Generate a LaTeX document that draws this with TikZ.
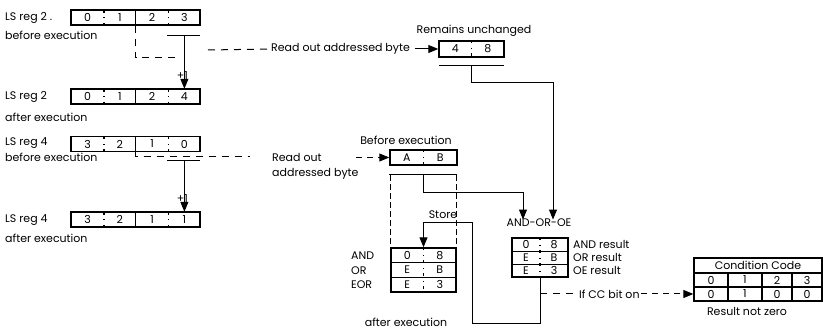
\documentclass[tikz,border=0pt]{standalone}
\usepackage{fontspec}
\setmainfont{Poppins}
\usetikzlibrary{arrows.meta}

\begin{document}
\begin{tikzpicture}[x=1pt,y=-1pt,
    every node/.style={font=\fontsize{11}{13}\selectfont},
    regbox/.style={draw,line width=1.4pt,inner sep=0pt,minimum height=15pt},
    bytecell/.style={inner sep=0pt,minimum width=32.25pt,minimum height=15pt},
    ccbox/.style={draw,line width=1.3pt,inner sep=0pt,minimum height=14pt},
    txt/.style={anchor=west,inner sep=1pt},
    tick/.style={line width=1.2pt,dash pattern=on 3pt off 4.5pt on 1pt off 4.5pt},
    wire/.style={line width=1pt},
    arr/.style={wire,-{Triangle[length=10pt,width=8pt]}},
    dashwire/.style={wire,dash pattern=on 7pt off 6pt},
    vdash/.style={wire,dash pattern=on 6pt off 3pt},
    dasharr/.style={wire,dash pattern=on 6pt off 5pt,-{Triangle[length=10pt,width=8pt]}}]
    \useasboundingbox (0,0) rectangle (823,336);
    % LS reg 2 before
        \node[txt] (twoblbl) at (4,18) {LS reg 2 .};
        \node[txt] (twobnote) at (4,35) {before execution};
        \node[regbox,minimum width=129pt] (twob) at (135.5,17.5) {};
        \node[bytecell] (twob-1) at (87.6,17.5) {0};
        \node[bytecell] (twob-2) at (119.9,17.5) {1};
        \node[bytecell] (twob-3) at (152.1,17.5) {2};
        \node[bytecell] (twob-4) at (184.4,17.5) {3};
        \draw[line width=1.4pt] (twob.north) -- (twob.south);
        \draw[tick] (twob-1.north east) -- (twob-1.south east);
        \draw[tick] (twob-3.north east) -- (twob-3.south east);
    % LS reg 2 after
        \node[txt] (twoalbl) at (4,97) {LS reg 2};
        \node[txt] (twoanote) at (4,117) {after execution};
        \node[regbox,minimum width=129pt] (twoa) at (135.5,96.5) {};
        \node[bytecell] (twoa-1) at (87.6,96.5) {0};
        \node[bytecell] (twoa-2) at (119.9,96.5) {1};
        \node[bytecell] (twoa-3) at (152.1,96.5) {2};
        \node[bytecell] (twoa-4) at (184.4,96.5) {4};
        \draw[line width=1.4pt] (twoa.north) -- (twoa.south);
        \draw[tick] (twoa-1.north east) -- (twoa-1.south east);
        \draw[tick] (twoa-3.north east) -- (twoa-3.south east);
    % increment reg 2
        \coordinate (twobarl) at (167,36);
        \coordinate (twobarr) at (200,36);
        \draw[wire] (twobarl) -- (twobarr);
        \draw[arr] (twob-4 |- twobarl) -- (twoa-4.north);
        \node (twoinc) at (182.5,76) {+1};

    % LS reg 4 before
        \node[txt] (fourblbl) at (4,143) {LS reg 4};
        \node[txt] (fourbnote) at (4,157) {before execution};
        \node[regbox,minimum width=129pt] (fourb) at (135.5,144) {};
        \node[bytecell] (fourb-1) at (87.6,144) {3};
        \node[bytecell] (fourb-2) at (119.9,144) {2};
        \node[bytecell] (fourb-3) at (152.1,144) {1};
        \node[bytecell] (fourb-4) at (184.4,144) {0};
        \draw[line width=1.4pt] (fourb.north) -- (fourb.south);
        \draw[tick] (fourb-1.north east) -- (fourb-1.south east);
        \draw[tick] (fourb-3.north east) -- (fourb-3.south east);
    % LS reg 4 after
        \node[txt] (fouralbl) at (4,220) {LS reg 4};
        \node[txt] (fouranote) at (4,238) {after execution};
        \node[regbox,minimum width=129pt] (foura) at (135.5,219.5) {};
        \node[bytecell] (foura-1) at (87.6,219.5) {3};
        \node[bytecell] (foura-2) at (119.9,219.5) {2};
        \node[bytecell] (foura-3) at (152.1,219.5) {1};
        \node[bytecell] (foura-4) at (184.4,219.5) {1};
        \draw[line width=1.4pt] (foura.north) -- (foura.south);
        \draw[tick] (foura-1.north east) -- (foura-1.south east);
        \draw[tick] (foura-3.north east) -- (foura-3.south east);
    % increment reg 4
        \coordinate (fourbarl) at (167,161);
        \coordinate (fourbarr) at (200,161);
        \draw[wire] (fourbarl) -- (fourbarr);
        \draw[arr] (fourb-4 |- fourbarl) -- (foura-4.north);
        \node (fourinc) at (182.5,199) {+1};

    % mask byte (read out by reg 2)
        \node[txt] (readone) at (270,49) {Read out addressed byte};
        \node (masktitle) at (474,31) {Remains unchanged};
        \node[regbox,minimum width=65pt,minimum height=16pt] (mask) at (471.5,49) {};
        \node[bytecell,minimum width=32.5pt] (mask-1) at (455.25,49) {4};
        \node[bytecell,minimum width=32.5pt] (mask-2) at (487.75,49) {8};
        \draw[tick] (mask.north) -- (mask.south);
        \coordinate (twodrop) at (178,58);
        \coordinate (twogap) at (208,50);
        \draw[dashwire] (twob.south) |- (twodrop);
        \draw[dashwire] (twogap) -- (readone.west);
        \coordinate (readonetip) at (415,49);
        \draw[arr] (readonetip) -- (mask.west);
        \coordinate (maskbarl) at (439,66);
        \coordinate (maskbarr) at (504,66);
        \draw[wire] (maskbarl) -- (maskbarr);

    % operand byte (read out by reg 4)
        \node[txt,align=left,font=\fontsize{11}{15}\selectfont] (readtwo) at (271,166.5) {Read out\\addressed byte};
        \node (optitle) at (406,140) {Before execution};
        \node[regbox,minimum width=67pt] (op) at (423.5,157.5) {};
        \node[bytecell,minimum width=33.5pt] (op-1) at (406.75,157.5) {A};
        \node[bytecell,minimum width=33.5pt] (op-2) at (440.25,157.5) {B};
        \draw[tick] (op.north) -- (op.south);
        \coordinate (fourgap) at (250,157);
        \draw[dashwire] (fourb.south) |- (fourgap);
        \coordinate (readtwotip) at (356,157.5);
        \draw[dasharr] (readtwotip) -- (op.west);
        \coordinate (opbarl) at (389,175);
        \coordinate (opbarr) at (457,175);
        \draw[wire] (opbarl) -- (opbarr);

    % AND-OR-OE
        \node (aoo) at (539,223) {AND-OR-OE};
        \draw[arr] (mask |- maskbarl) -- ++(0,17) -| ([xshift=14pt,yshift=-4pt]aoo.north);
        \draw[arr] (op |- opbarl) -- ++(0,18) -| ([xshift=-16pt,yshift=-4pt]aoo.north);
        \node[regbox,minimum width=56pt,minimum height=39pt] (aoobox) at (540,257.5) {};
        \node[bytecell,minimum width=28pt,minimum height=13pt] (aoo-1) at (526,244.5) {0};
        \node[bytecell,minimum width=28pt,minimum height=13pt] (aoo-2) at (554,244.5) {8};
        \node[bytecell,minimum width=28pt,minimum height=13pt] (aoo-3) at (526,257.5) {E};
        \node[bytecell,minimum width=28pt,minimum height=13pt] (aoo-4) at (554,257.5) {B};
        \node[bytecell,minimum width=28pt,minimum height=13pt] (aoo-5) at (526,270.5) {E};
        \node[bytecell,minimum width=28pt,minimum height=13pt] (aoo-6) at (554,270.5) {3};
        \draw[line width=1.3pt] (aoo-1.south west) -- (aoo-2.south east);
        \draw[line width=1.3pt] (aoo-3.south west) -- (aoo-4.south east);
        \draw[tick] (aoobox.north) -- (aoobox.south);
        \node[txt] (andres) at (572,244.5) {AND result};
        \node[txt] (orres) at (572,257.5) {OR result};
        \node[txt] (oeres) at (572,270.5) {OE result};

    % stored result
        \node[txt] (andlbl) at (350,256) {AND};
        \node[txt] (orlbl) at (350,270.5) {OR};
        \node[txt] (eorlbl) at (350,285) {EOR};
        \node (store) at (443,215) {Store};
        \node (stornote) at (406,322) {after execution};
        \node[regbox,minimum width=65pt,minimum height=44pt] (stor) at (423.5,270) {};
        \node[bytecell,minimum width=32.5pt,minimum height=14.67pt] (stor-1) at (407.25,255.3) {0};
        \node[bytecell,minimum width=32.5pt,minimum height=14.67pt] (stor-2) at (439.75,255.3) {8};
        \node[bytecell,minimum width=32.5pt,minimum height=14.67pt] (stor-3) at (407.25,270) {E};
        \node[bytecell,minimum width=32.5pt,minimum height=14.67pt] (stor-4) at (439.75,270) {B};
        \node[bytecell,minimum width=32.5pt,minimum height=14.67pt] (stor-5) at (407.25,284.7) {E};
        \node[bytecell,minimum width=32.5pt,minimum height=14.67pt] (stor-6) at (439.75,284.7) {3};
        \draw[line width=1.3pt] (stor-1.south west) -- (stor-2.south east);
        \draw[line width=1.3pt] (stor-3.south west) -- (stor-4.south east);
        \draw[tick] (stor.north) -- (stor.south);
        \draw[vdash] (stor.north west |- opbarl) -- (stor.north west);
        \draw[vdash] (stor.north east |- opbarr) -- (stor.north east);
        \coordinate (storbot) at (472,324);
        \coordinate (stortop) at (472,223);
        \draw[arr] (aoobox.south) |- (storbot) -- (stortop) -| (stor.north);

    % condition code
        \node[ccbox,minimum width=128pt,minimum height=15pt] (cctitle) at (758,265.5) {Condition Code};
        \node[ccbox,minimum width=34pt] (cch-1) at (711,280) {0};
        \node[ccbox,minimum width=34pt] (cch-2) at (745,280) {1};
        \node[ccbox,minimum width=30pt] (cch-3) at (777,280) {2};
        \node[ccbox,minimum width=30pt] (cch-4) at (807,280) {3};
        \node[ccbox,minimum width=34pt] (ccv-1) at (711,294) {0};
        \node[ccbox,minimum width=34pt] (ccv-2) at (745,294) {1};
        \node[ccbox,minimum width=30pt] (ccv-3) at (777,294) {0};
        \node[ccbox,minimum width=30pt] (ccv-4) at (807,294) {0};
        \node (ccnote) at (747,311) {Result not zero};
        \coordinate (ccbranch) at (aoobox.south |- ccv-1);
        \node[txt] (ccif) at (578,294) {If CC bit on};
        \draw[dashwire] (ccbranch) -- (ccif.west);
        \draw[dasharr] (ccif.east) -- (ccv-1.west);
\end{tikzpicture}
\end{document}
